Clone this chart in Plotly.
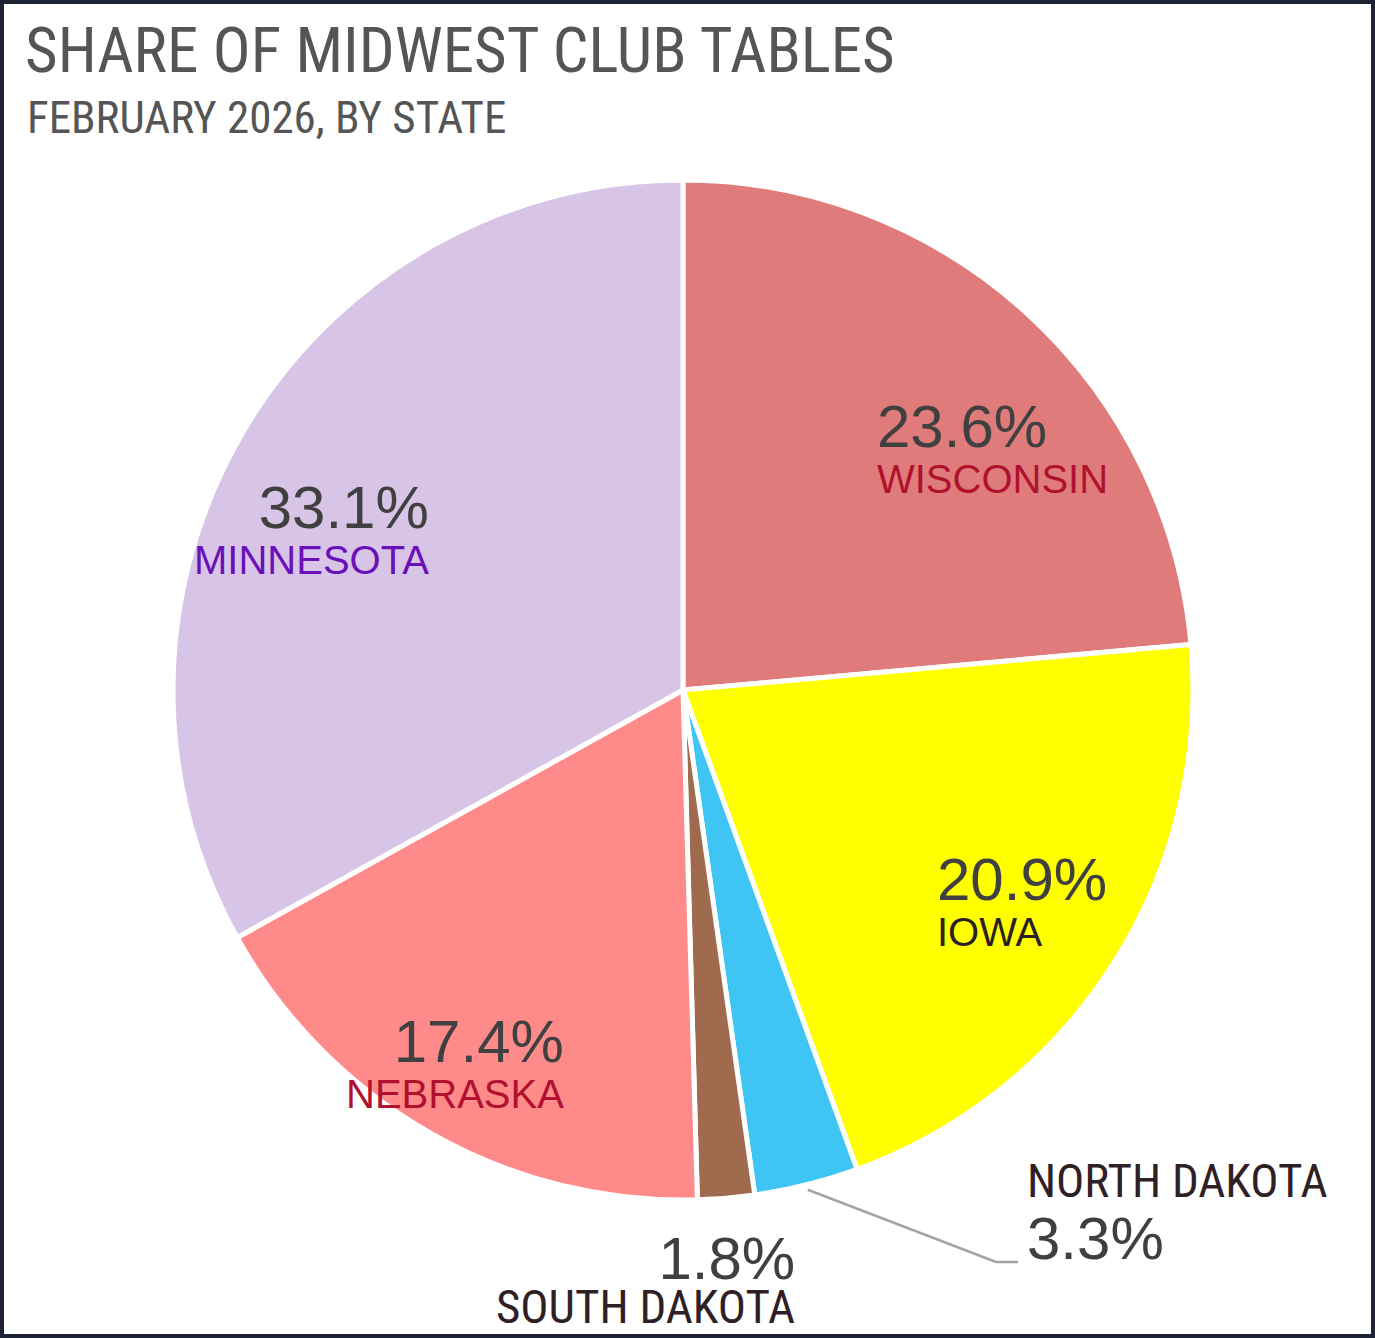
import math
import plotly.graph_objects as go

# share of club tables, Feb 2026 (clockwise from 12 o'clock)
states = ["WISCONSIN", "IOWA", "NORTH DAKOTA", "SOUTH DAKOTA", "NEBRASKA", "MINNESOTA"]
shares = [23.6, 20.9, 3.3, 1.8, 17.4, 33.1]
slice_colors = ["#e07b7b", "#ffff00", "#3ec5f3", "#a06a4e", "#ff8a8a", "#d7c4e6"]
name_colors = ["#b0112f", "#2c1f26", "#2f2026", "#2f2026", "#b0112f", "#6a10b8"]

W, H = 1375, 1338
L, R, T, B = 173, 182, 180, 138
PW, PH = W - L - R, H - T - B

PCT_FONT = "Liberation Sans, Arial, sans-serif"
NARROW_FONT = "Roboto Condensed, Liberation Sans Narrow, Roboto, sans-serif"


def px_to_paper(px, py):
    return (px - L) / PW, 1 - (py - T) / PH


# label placement (style only): anchor in pixels, which side the text hangs from
label_style = {
    "WISCONSIN": dict(at=(875, 447), side="left", outside=False, base=35),
    "IOWA": dict(at=(935, 900), side="left", outside=False, base=35),
    "NORTH DAKOTA": dict(at=(1025, 1212), side="left", outside=True, base=48, name_first=True),
    "SOUTH DAKOTA": dict(at=(797, 1279), side="right", outside=True, base=34, name_first=False),
    "NEBRASKA": dict(at=(566, 1062), side="right", outside=False, base=35),
    "MINNESOTA": dict(at=(431, 528), side="right", outside=False, base=35),
}

fig = go.Figure(go.Pie(
    labels=states,
    values=shares,
    sort=False,
    direction="clockwise",
    rotation=0,
    marker=dict(colors=slice_colors, line=dict(color="white", width=5)),
    textinfo="none",
    showlegend=False,
    hoverinfo="label+percent",
    domain=dict(x=[0, 1], y=[0, 1]),
))

for name, val, col in zip(states, shares, name_colors):
    st = label_style[name]
    x, y = px_to_paper(*st["at"])
    pct = (f"<span style='font-family:{PCT_FONT};font-size:60px;color:#404040'>"
           f"{val:.1f}%</span>")
    if st["outside"]:
        nm = f"<span style='font-family:{NARROW_FONT};font-size:47px;color:{col}'>{name}</span>"
        text = nm + "<br>" + pct if st.get("name_first") else pct + "<br>" + nm
    else:
        nm = f"<span style='font-size:40px;color:{col}'>{name}</span>"
        text = pct + "<br>" + nm
    fig.add_annotation(x=x, y=y, xref="paper", yref="paper", text=text, showarrow=False,
                       xanchor=st["side"], yanchor="middle", align=st["side"],
                       font=dict(family=PCT_FONT, size=st["base"]))

# leader line for North Dakota, starting at the slice edge on its mid angle
total = sum(shares)
i_nd = states.index("NORTH DAKOTA")
mid = (sum(shares[:i_nd]) + shares[i_nd] / 2) / total * 2 * math.pi
cx, cy = L + PW / 2, T + PH / 2
rad = min(PW, PH) / 2 * 1.01
sx, sy = px_to_paper(cx + rad * math.sin(mid), cy - rad * math.cos(mid))
ex, ey = px_to_paper(996, 1262)
fx, fy = px_to_paper(1018, 1262)
fig.add_shape(type="path", xref="paper", yref="paper",
              path=f"M {sx} {sy} L {ex} {ey} L {fx} {fy}",
              line=dict(color="#a3a3a3", width=2.5))

# subtitle
sx0, sy0 = px_to_paper(25, 117)
fig.add_annotation(x=sx0, y=sy0, xref="paper", yref="paper", text="FEBRUARY 2026, BY STATE",
                   showarrow=False, xanchor="left", yanchor="middle",
                   font=dict(family=NARROW_FONT, size=45, color="#555555"))

fig.update_layout(
    width=W, height=H,
    margin=dict(l=L, r=R, t=T, b=B, autoexpand=False),
    paper_bgcolor="white",
    title=dict(
        text="SHARE OF MIDWEST CLUB TABLES",
        font=dict(family=NARROW_FONT, size=63, color="#555555"),
        x=25 / W, xanchor="left", xref="container",
        y=1 - 28 / H, yanchor="top", yref="container",
    ),
)

# dark frame around the whole picture
fig.add_shape(type="rect", xref="paper", yref="paper",
              x0=(-L + 2) / PW, x1=(PW + R - 2) / PW,
              y0=(-B + 2) / PH, y1=(PH + T - 2) / PH,
              line=dict(color="#1d2334", width=4), layer="above")

fig.write_html("out.html", config={"displayModeBar": False},
               post_script="document.body.style.margin='0';")
